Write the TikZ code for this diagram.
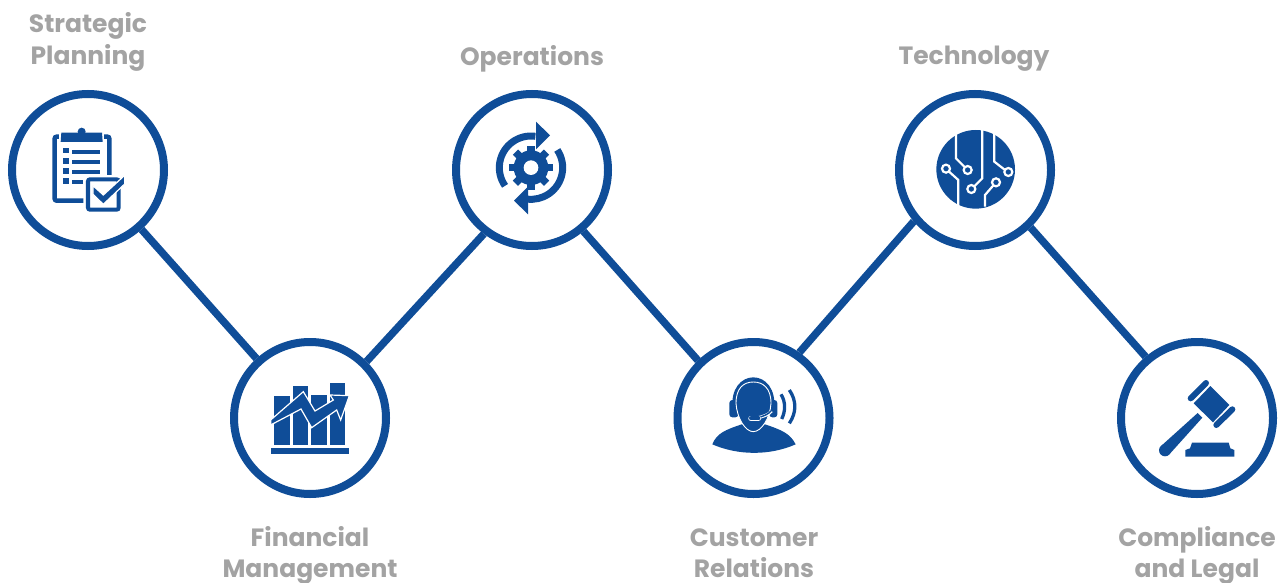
\documentclass[tikz,border=0pt]{standalone}
\usepackage{fontspec}
\setmainfont{Poppins}
\usepackage{tikz}
\usetikzlibrary{calc}
\definecolor{hubblue}{HTML}{0F4D98}
\definecolor{labelgray}{HTML}{A3A3A3}
\tikzset{
  hub/.style={circle,draw=hubblue,fill=white,line width=8pt,minimum size=152pt,inner sep=0pt},
  tag/.style={text=labelgray,align=center,inner sep=0pt,font=\fontsize{25}{31.5}\selectfont\bfseries},
  link/.style={draw=hubblue,line width=7.5pt},
  halo/.style={fill=hubblue,draw=white,line width=1.2pt},
  trace/.style={draw=white,line width=2.2pt},
}
\def\hubnode{\node[hub]}
\def\tagnode{\node[tag]}
\def\icon{\fill[hubblue]}
\begin{document}
\begin{tikzpicture}[x=1pt,y=-1pt]
\useasboundingbox (0,0) rectangle (1284,583);

% ---------- the six circles
\hubnode (planning) at (88,170) {};
\hubnode (finance) at (310,418) {};
\hubnode (operations) at (532,170) {};
\hubnode (customer) at (753.5,418) {};
\hubnode (technology) at (975,170) {};
\hubnode (compliance) at (1197,418) {};

% ---------- connectors
\draw[link] (planning.-48) -- (finance.132);
\draw[link] (finance.45) -- (operations.233);
\draw[link] (operations.-50) -- (customer.134);
\draw[link] (customer.55) -- (technology.220);
\draw[link] (technology.-46) -- (compliance.130);

% ---------- labels
\tagnode (planning_tag) at (88,42) {Strategic\\Planning};
\tagnode (finance_tag) at (310,555.5) {Financial\\Management};
\tagnode (operations_tag) at (532,59) {Operations};
\tagnode (customer_tag) at (754,553) {Customer\\Relations};
\tagnode (technology_tag) at (974,59) {Technology};
\tagnode (compliance_tag) at (1197,555.5) {Compliance\\and Legal};

% -------- clipboard ---------
% Icon coordinates are thirds of a pixel, measured from the shift.
\begin{scope}[shift={(0,80)},scale=1/3]
\draw[hubblue,line width=4.5pt,rounded corners=2pt] (328,285) -- (328,170) -- (164,170) -- (164,362) -- (250,362);
\fill[white] (176,150) rectangle (312,192);
\icon (182,186) -- (184,158) -- (306,158) -- (308,186) -- cycle;
\icon (245,155) circle (12);
\icon (190,204) rectangle (208,220);
\icon (190,234) rectangle (208,252);
\icon (190,264) rectangle (208,282);
\icon (190,294) rectangle (208,312);
\icon (215,211) rectangle (300,222);
\icon (215,241) rectangle (300,252);
\icon (215,271) rectangle (300,282);
\icon (215,301) rectangle (250,312);
\draw[hubblue,line width=4pt,fill=white,rounded corners=2pt] (264,298) rectangle (356,389);
\draw[halo] (279,317) -- (279,343) -- (310,373) -- (374,312) -- (374,286) -- (310,345) -- cycle;
\end{scope}

% -------- bar chart ---------
\begin{scope}[shift={(225,335)},scale=1/3]
\icon (148,183) rectangle (194,330);
\icon (204,153) rectangle (250,330);
\icon (259,180) rectangle (305,330);
\icon (315,145) rectangle (360,330);
\icon (137,340) rectangle (371,356);
\draw[halo] (137,255) -- (235,170) -- (270,228) -- (325,195) -- (315,180) -- (373,182) -- (347,255) -- (335,225) -- (260,278) -- (228,222) -- (137,270) -- cycle;
\end{scope}

% -------- gear and arrows ---------
\begin{scope}[shift={(450,90)},scale=1/3]
\coordinate (gear) at (243,233);
\foreach \a in {0,45,...,315} {
  \icon[rotate around={\a:(gear)}] (232,167) rectangle (254,195);
}
\icon (gear) circle (52);
\fill[white] (gear) circle (22);
\draw[hubblue,line width=7pt] ($ (gear) + (145:95) $) arc[start angle=145,end angle=278,radius=95];
\icon (258,95) -- (300,136) -- (258,178) -- cycle;
\draw[hubblue,line width=7pt] ($ (gear) + (-34:95) $) arc[start angle=-34,end angle=98,radius=95];
\icon (234,290) -- (192,332) -- (234,373) -- cycle;
\end{scope}

% -------- headset ---------
\begin{scope}[shift={(670,335)},scale=1/3]
\icon (127,328) .. controls (140,295) and (165,285) .. (215,268) -- (285,268) .. controls (335,285) and (360,295) .. (377,328) .. controls (300,362) and (205,362) .. (127,328) -- cycle;
\icon[rounded corners=3pt] (178,195) rectangle (205,247);
\icon[rounded corners=3pt] (298,195) rectangle (322,247);
\icon (188,225) .. controls (180,160) and (215,127) .. (250,127) .. controls (285,127) and (320,160) .. (312,225) -- cycle;
\draw[fill=hubblue,draw=white,line width=0.9pt] (198,205) .. controls (198,160) and (220,141) .. (250,141) .. controls (280,141) and (303,160) .. (303,205) .. controls (300,250) and (274,290) .. (250,290) .. controls (226,290) and (201,250) .. (198,205) -- cycle;
\draw[white,line width=3pt] (305,228) .. controls (295,240) and (280,245) .. (255,250);
\draw[hubblue,line width=1.4pt] (305,226) .. controls (295,238) and (280,245) .. (255,250);
\draw[white,line width=5.5pt,line cap=round] (243,250) -- (265,250);
\draw[hubblue,line width=4pt,line cap=round] (243,250) -- (265,250);
\draw[hubblue,line width=3.3pt] (333,178) .. controls (347,200) and (347,228) .. (335,252);
\draw[hubblue,line width=3.3pt] (358,165) .. controls (380,197) and (380,232) .. (358,265);
\end{scope}

% -------- circuit ---------
\begin{scope}[shift={(895,90)},scale=1/3]
\icon (242,238) circle (118);
\draw[trace] (183,125) -- (183,205) -- (210,232);
\draw[trace] (262,115) -- (262,265) -- (236,291);
\draw[trace] (298,130) -- (298,215) -- (330,240);
\draw[trace] (160,243) -- (190,270) -- (190,350);
\draw[trace] (296,285) -- (270,315) -- (270,350);
\draw[trace,fill=hubblue] (218,240) circle (12);
\draw[trace,fill=hubblue] (229,297) circle (12);
\draw[trace,fill=hubblue] (340,246) circle (12);
\draw[trace,fill=hubblue] (153,236) circle (12);
\draw[trace,fill=hubblue] (303,277) circle (12);
\end{scope}

% -------- gavel ---------
\begin{scope}[shift={(1112,335)},scale=1/3]
\icon (295,153) -- (352,210) -- (303,262) -- (245,205) -- cycle;
\draw[hubblue,line width=6pt,line cap=round] (236,190) -- (282,144);
\draw[hubblue,line width=6pt,line cap=round] (313,270) -- (361,223);
\icon (257,234) -- (271,248) -- (172,358) -- (146,334) -- cycle;
\icon (159,346) circle (18);
\icon (220,365) -- (220,345) -- (234,340) -- (240,323) -- (350,323) -- (355,340) -- (367,345) -- (367,365) -- cycle;
\end{scope}
\end{tikzpicture}
\end{document}
